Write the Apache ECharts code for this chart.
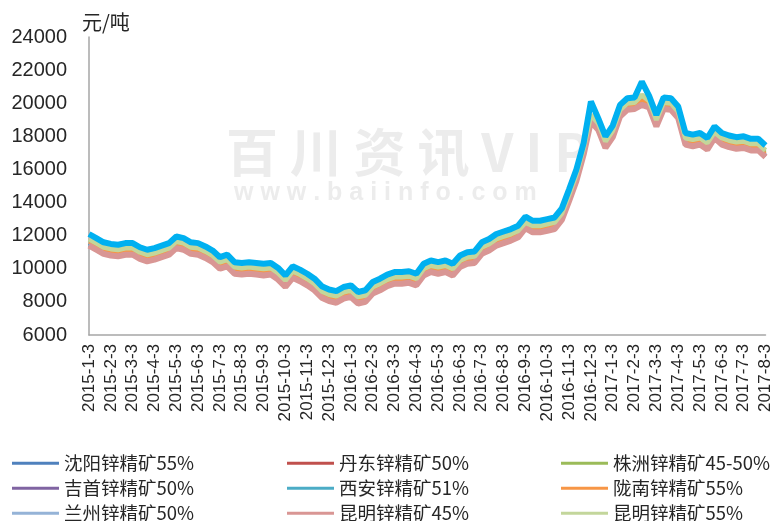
<!DOCTYPE html>
<html>
<head>
<meta charset="utf-8">
<script src="https://cdn.jsdelivr.net/npm/echarts@6/dist/echarts.min.js"></script>
<style>
html, body { margin: 0; padding: 0; background: #fff; }
#main { width: 774px; height: 521px; }
</style>
</head>
<body>
<div id="main"></div>
<script>
var months = ['2015-1', '2015-2', '2015-3', '2015-4', '2015-5', '2015-6', '2015-7', '2015-8', '2015-9', '2015-10', '2015-11', '2015-12',
	'2016-1', '2016-2', '2016-3', '2016-4', '2016-5', '2016-6', '2016-7', '2016-8', '2016-9', '2016-10', '2016-11', '2016-12',
	'2017-1', '2017-2', '2017-3', '2017-4', '2017-5', '2017-6', '2017-7', '2017-8'];
var days = ['3', '13', '23'];

// 元/吨
var shenyang55 = [11500, 11250, 11000, 10900, 10850, 10950, 10950, 10700, 10550, 10650,
	10800, 10950, 11350, 11250, 11000, 10950, 10750, 10500, 10100, 10250,
	9800, 9750, 9800, 9750, 9700, 9750, 9450, 9000, 9550, 9350,
	9100, 8800, 8350, 8150, 8050, 8300, 8400, 8000, 8100, 8600,
	8800, 9050, 9200, 9200, 9250, 9100, 9700, 9900, 9800, 9900,
	9700, 10200, 10400, 10450, 11000, 11200, 11500, 11650, 11800, 12000,
	12500, 12300, 12300, 12400, 12500, 13050, 14200, 15400, 17000, 19000,
	18500, 17400, 18050, 19300, 19700, 19750, 20000, 19850, 18700, 19750,
	19700, 19200, 17600, 17500, 17600, 17300, 17950, 17600, 17450, 17350,
	17400, 17250, 17250, 16850];
var dandong50 = [11420, 11170, 10920, 10820, 10770, 10870, 10870, 10620, 10470, 10570,
	10720, 10870, 11270, 11170, 10920, 10870, 10670, 10420, 10020, 10170,
	9720, 9670, 9720, 9670, 9620, 9670, 9370, 8920, 9470, 9270,
	9020, 8720, 8270, 8070, 7970, 8220, 8320, 7920, 8020, 8520,
	8720, 8970, 9120, 9120, 9170, 9020, 9620, 9820, 9720, 9820,
	9620, 10120, 10320, 10370, 10920, 11120, 11420, 11570, 11720, 11920,
	12420, 12220, 12220, 12320, 12420, 12970, 14120, 15320, 16920, 18920,
	18420, 17320, 17970, 19220, 19620, 19670, 19920, 19770, 18620, 19670,
	19620, 19120, 17520, 17420, 17520, 17220, 17870, 17520, 17370, 17270,
	17320, 17170, 17170, 16770];
var zhuzhou = [11700, 11450, 11200, 11100, 11050, 11150, 11150, 10900, 10750, 10850,
	11000, 11150, 11550, 11450, 11200, 11150, 10950, 10700, 10300, 10450,
	10000, 9950, 10000, 9950, 9900, 9950, 9650, 9200, 9750, 9550,
	9300, 9000, 8550, 8350, 8250, 8500, 8600, 8200, 8300, 8800,
	9000, 9250, 9400, 9400, 9450, 9300, 9900, 10100, 10000, 10100,
	9900, 10400, 10600, 10650, 11200, 11400, 11700, 11850, 12000, 12200,
	12700, 12500, 12500, 12600, 12700, 13250, 14400, 15600, 17200, 19200,
	18700, 17600, 18250, 19500, 19900, 19950, 20400, 20050, 18900, 19950,
	19900, 19400, 17800, 17700, 17800, 17500, 18150, 17800, 17650, 17550,
	17600, 17450, 17450, 17050];
var jishou50 = [11550, 11300, 11050, 10950, 10900, 11000, 11000, 10750, 10600, 10700,
	10850, 11000, 11400, 11300, 11050, 11000, 10800, 10550, 10150, 10300,
	9850, 9800, 9850, 9800, 9750, 9800, 9500, 9050, 9600, 9400,
	9150, 8850, 8400, 8200, 8100, 8350, 8450, 8050, 8150, 8650,
	8850, 9100, 9250, 9250, 9300, 9150, 9750, 9950, 9850, 9950,
	9750, 10250, 10450, 10500, 11050, 11250, 11550, 11700, 11850, 12050,
	12550, 12350, 12350, 12450, 12550, 13100, 14250, 15450, 17050, 19000,
	18550, 17450, 18100, 19350, 19750, 19800, 20100, 19900, 18750, 19800,
	19750, 19250, 17650, 17550, 17650, 17350, 18000, 17650, 17500, 17400,
	17450, 17300, 17300, 16900];
var xian51 = [11520, 11270, 11020, 10920, 10870, 10970, 10970, 10720, 10570, 10670,
	10820, 10970, 11370, 11270, 11020, 10970, 10770, 10520, 10120, 10270,
	9820, 9770, 9820, 9770, 9720, 9770, 9470, 9020, 9570, 9370,
	9120, 8820, 8370, 8170, 8070, 8320, 8420, 8020, 8120, 8620,
	8820, 9070, 9220, 9220, 9270, 9120, 9720, 9920, 9820, 9920,
	9720, 10220, 10420, 10470, 11020, 11220, 11520, 11670, 11820, 12020,
	12520, 12320, 12320, 12420, 12520, 13070, 14220, 15420, 17020, 19020,
	18520, 17420, 18070, 19320, 19720, 19770, 20020, 19870, 18720, 19770,
	19720, 19220, 17620, 17520, 17620, 17320, 17970, 17620, 17470, 17370,
	17420, 17270, 17270, 16870];
var longnan55 = [11600, 11350, 11100, 11000, 10950, 11050, 11050, 10800, 10650, 10750,
	10900, 11050, 11450, 11350, 11100, 11050, 10850, 10600, 10200, 10350,
	9900, 9850, 9900, 9850, 9800, 9850, 9550, 9100, 9650, 9450,
	9200, 8900, 8450, 8250, 8150, 8400, 8500, 8100, 8200, 8700,
	8900, 9150, 9300, 9300, 9350, 9200, 9800, 10000, 9900, 10000,
	9800, 10300, 10500, 10550, 11100, 11300, 11600, 11750, 11900, 12100,
	12600, 12400, 12400, 12500, 12600, 13150, 14300, 15500, 17100, 19100,
	18600, 17500, 18150, 19400, 19800, 19850, 20200, 19950, 18800, 19850,
	19800, 19300, 17700, 17600, 17700, 17400, 18050, 17700, 17550, 17450,
	17500, 17350, 17350, 16950];
var lanzhou50 = [11450, 11200, 10950, 10850, 10800, 10900, 10900, 10650, 10500, 10600,
	10750, 10900, 11300, 11200, 10950, 10900, 10700, 10450, 10050, 10200,
	9750, 9700, 9750, 9700, 9650, 9700, 9400, 8950, 9500, 9300,
	9050, 8750, 8300, 8100, 8000, 8250, 8350, 7950, 8050, 8550,
	8750, 9000, 9150, 9150, 9200, 9050, 9650, 9850, 9750, 9850,
	9650, 10150, 10350, 10400, 10950, 11150, 11450, 11600, 11750, 11950,
	12450, 12250, 12250, 12350, 12450, 13000, 14150, 15350, 16950, 18950,
	18450, 17350, 18000, 19250, 19650, 19700, 19950, 19800, 18650, 19700,
	19650, 19150, 17550, 17450, 17550, 17250, 17900, 17550, 17400, 17300,
	17350, 17200, 17200, 16800];
var kunming45 = [11400, 11150, 10900, 10800, 10750, 10850, 10850, 10600, 10450, 10550,
	10700, 10850, 11250, 11150, 10900, 10850, 10650, 10400, 10000, 10150,
	9700, 9650, 9700, 9650, 9600, 9650, 9350, 8900, 9450, 9250,
	9000, 8700, 8250, 8050, 7950, 8200, 8300, 7900, 8000, 8500,
	8700, 8950, 9100, 9100, 9150, 9000, 9600, 9800, 9700, 9800,
	9600, 10100, 10300, 10350, 10900, 11100, 11400, 11550, 11700, 11900,
	12450, 12200, 12200, 12300, 12400, 12950, 14100, 15300, 16900, 18900,
	18400, 17300, 17950, 19200, 19600, 19650, 19900, 19750, 18600, 19650,
	19600, 19100, 17500, 17400, 17500, 17200, 17900, 17500, 17350, 17250,
	17300, 17150, 17150, 16750];
var kunming55 = [11800, 11550, 11300, 11200, 11150, 11250, 11250, 11000, 10850, 10950,
	11100, 11250, 11650, 11550, 11300, 11250, 11050, 10800, 10400, 10550,
	10100, 10050, 10100, 10050, 10000, 10050, 9750, 9300, 9850, 9650,
	9400, 9100, 8650, 8450, 8350, 8600, 8700, 8300, 8400, 8900,
	9100, 9350, 9500, 9500, 9550, 9400, 10000, 10200, 10100, 10200,
	10000, 10500, 10700, 10750, 11300, 11500, 11800, 11950, 12100, 12300,
	12800, 12600, 12600, 12700, 12800, 13350, 14500, 15700, 17300, 19300,
	18800, 17700, 18350, 19600, 20000, 20050, 20500, 20150, 19000, 20050,
	20000, 19500, 17900, 17800, 17900, 17600, 18250, 17900, 17750, 17650,
	17700, 17550, 17550, 17150];
// 图中最上方的蓝线（图例中未列出）
var topLine = [12100, 11850, 11600, 11500, 11450, 11550, 11550, 11300, 11150, 11250,
	11400, 11550, 11950, 11850, 11600, 11550, 11350, 11100, 10700, 10850,
	10400, 10350, 10400, 10350, 10300, 10350, 10050, 9600, 10150, 9950,
	9700, 9400, 8950, 8750, 8650, 8900, 9000, 8600, 8700, 9200,
	9400, 9650, 9800, 9800, 9850, 9700, 10300, 10500, 10400, 10500,
	10300, 10800, 11000, 11050, 11600, 11800, 12100, 12250, 12400, 12600,
	13150, 12900, 12900, 13000, 13100, 13650, 14800, 16000, 17600, 20100,
	19100, 18000, 18650, 19900, 20300, 20350, 21300, 20450, 19300, 20350,
	20300, 19800, 18200, 18100, 18200, 17900, 18600, 18200, 18050, 17950,
	18000, 17850, 17850, 17450];

var dates = [];
months.forEach(function(m, k) {
	days.forEach(function(d) {
		if (k < months.length - 1 || d === '3') dates.push(m + '-' + d);
	});
});

var myChart = echarts.init(document.getElementById('main'));

function line(name, data, color, width) {
	return {
		name: name,
		type: 'line',
		data: data,
		symbol: 'none',
		color: color,
		lineStyle: { width: width, color: color },
		animation: false
	};
}

// 图例：3列 x 3行，每项单独定位
var legendCols = [12, 287, 561];
var legendRows = [454, 479, 504];
function item(c, r, name) {
	return {
		left: legendCols[c],
		top: legendRows[r],
		padding: 0,
		itemWidth: 47,
		itemHeight: 12,
		icon: 'path://M0,5 L48,5 L48,8 L0,8 Z',
		textStyle: { fontSize: 18.5, color: '#262626', fontFamily: 'Noto Sans CJK SC' },
		data: [name]
	};
}

option = {
	backgroundColor: '#fff',
	grid: {
		left: 89,
		right: 8,
		top: 37,
		bottom: 186
	},
	legend: [
		item(0, 0, '沈阳锌精矿55%'), item(1, 0, '丹东锌精矿50%'), item(2, 0, '株洲锌精矿45-50%'),
		item(0, 1, '吉首锌精矿50%'), item(1, 1, '西安锌精矿51%'), item(2, 1, '陇南锌精矿55%'),
		item(0, 2, '兰州锌精矿50%'), item(1, 2, '昆明锌精矿45%'), item(2, 2, '昆明锌精矿55%')
	],
	graphic: [{
		type: 'text',
		left: 226,
		top: 126,
		z: -10,
		style: {
			text: '百 川 资 讯 V I P',
			fontSize: 52,
			fontWeight: 'bold',
			fontFamily: 'Noto Sans CJK SC',
			fill: '#ececec'
		}
	}, {
		type: 'text',
		left: 234,
		top: 181,
		z: -10,
		style: {
			text: 'w w w . b a i i n f o . c o m',
			fontSize: 25,
			fontWeight: 'bold',
			fontFamily: 'Liberation Sans',
			fill: '#ececec'
		}
	}],
	xAxis: {
		type: 'category',
		data: dates,
		boundaryGap: false,
		axisLine: { lineStyle: { color: '#a6a6a6', width: 1.5 } },
		axisTick: { show: false },
		axisLabel: {
			interval: 2,
			rotate: 90,
			margin: 9,
			fontSize: 17,
			color: '#262626',
			fontFamily: 'Liberation Sans'
		},
		splitLine: { show: false }
	},
	yAxis: {
		type: 'value',
		min: 6000,
		max: 24000,
		interval: 2000,
		name: '元/吨',
		nameLocation: 'end',
		nameGap: 5,
		nameTextStyle: {
			fontSize: 20,
			color: '#262626',
			fontFamily: 'Noto Sans CJK SC',
			align: 'left',
			padding: [0, 0, 0, -7]
		},
		axisLine: { show: true, lineStyle: { color: '#a6a6a6', width: 1.5 } },
		axisTick: { show: false },
		axisLabel: {
			margin: 22,
			fontSize: 20,
			color: '#262626',
			fontFamily: 'Liberation Sans',
			formatter: function(v) { return String(v); }
		},
		splitLine: { show: false }
	},
	series: [
		line('沈阳锌精矿55%', shenyang55, '#4F81BD', 3),
		line('丹东锌精矿50%', dandong50, '#C0504D', 3),
		line('株洲锌精矿45-50%', zhuzhou, '#9BBB59', 3),
		line('吉首锌精矿50%', jishou50, '#8064A2', 3),
		line('西安锌精矿51%', xian51, '#4BACC6', 3),
		line('陇南锌精矿55%', longnan55, '#F79646', 3),
		line('兰州锌精矿50%', lanzhou50, '#95B3D7', 3),
		line('昆明锌精矿45%', kunming45, '#D99694', 6),
		line('昆明锌精矿55%', kunming55, '#C3D69B', 5),
		line('锌精矿', topLine, '#00B0F0', 6)
	]
};
myChart.setOption(option);
window.onresize = myChart.resize;
</script>
</body>
</html>
